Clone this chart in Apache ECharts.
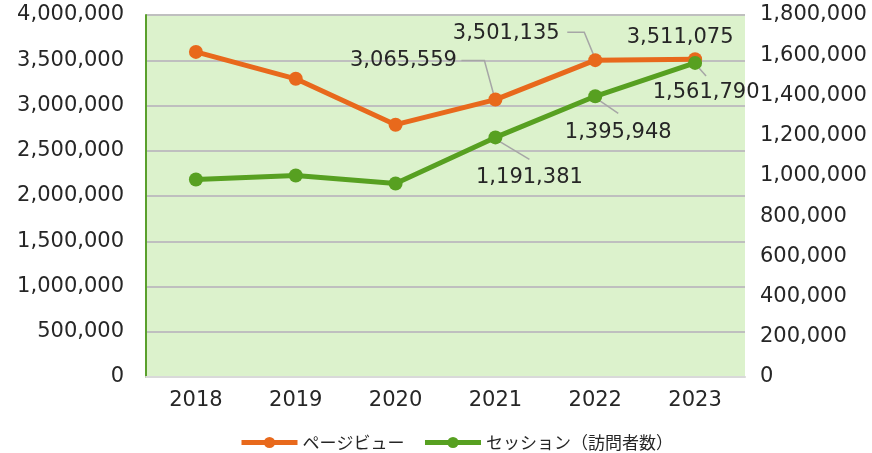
<!DOCTYPE html>
<html><head><meta charset="utf-8">
<script src="https://cdn.jsdelivr.net/npm/echarts@6/dist/echarts.min.js"></script>
<style>html,body{margin:0;padding:0;background:#fff}#c{width:872px;height:453px}</style>
</head><body><div id="c"></div>
<script>
const years = ['2018','2019','2020','2021','2022','2023'];
const pageViews = [3592000, 3295000, 2788000, 3065559, 3501135, 3511075];
const sessions = [982000, 1002000, 962000, 1191381, 1395948, 1561790];
const seriesNames = ['ページビュー', 'セッション（訪問者数）'];
const labeledFrom = 3;

const NUM_FONT = 'DejaVu Sans';
const fmt = v => v.toLocaleString('en-US');
// label offsets (dx, dy) and guide-line bends relative to the point
const pvOffsets = {3: [-92, -39], 4: [-89, -27], 5: [-15, -22]};
const pvGuides = {3: [[-2,-6],[-11,-39],[-34,-39]], 4: [[-2,-6],[-11,-28],[-28,-28]]};
const sOffsets = {3: [34, 40], 4: [23, 36], 5: [11, 30]};
const sGuides = {3: [[4,4],[34,22]], 4: [[4,4],[23,17]], 5: [[3,4],[11,13]]};

function mk(arr) {
  return arr.map((v, i) => ({value: v, label: {show: i >= labeledFrom}}));
}
const labelStyle = {
  show: false, position: 'inside', formatter: p => fmt(p.value),
  fontFamily: NUM_FONT, fontSize: 21, color: '#262626'
};
function layoutFn(offsets) {
  return p => {
    const o = offsets[p.dataIndex] || [0, 0];
    return {dx: o[0], dy: o[1]};
  };
}

const chart = echarts.init(document.getElementById('c'));
chart.setOption({
  animation: false,
  grid: {left: 146, right: 127, top: 15, bottom: 76, show: true, backgroundColor: '#dcf2cc', borderWidth: 0},
  legend: {
    top: 429, left: 234, itemWidth: 56, itemHeight: 14, itemGap: 18,
    lineStyle: {width: 5},
    textStyle: {fontFamily: 'Noto Sans CJK JP', fontSize: 17, color: '#262626'},
    data: seriesNames
  },
  xAxis: {
    type: 'category', data: years, boundaryGap: true,
    axisLine: {show: true, lineStyle: {color: '#d9d9d9', width: 2}},
    axisTick: {show: false},
    axisLabel: {fontFamily: NUM_FONT, fontSize: 21, color: '#262626', margin: 13}
  },
  yAxis: [{
    type: 'value', min: 0, max: 4000000, interval: 500000,
    axisLine: {show: true, lineStyle: {color: '#5aa02c', width: 2}},
    axisTick: {show: false},
    splitLine: {lineStyle: {color: '#bfbfbf', width: 2}},
    axisLabel: {fontFamily: NUM_FONT, fontSize: 21, color: '#262626', margin: 22, formatter: v => fmt(v)}
  }, {
    type: 'value', min: 0, max: 1800000, interval: 200000,
    axisLine: {show: false}, axisTick: {show: false}, splitLine: {show: false},
    axisLabel: {fontFamily: NUM_FONT, fontSize: 21, color: '#262626', margin: 15, formatter: v => fmt(v)}
  }],
  series: [{
    name: seriesNames[0], type: 'line', yAxisIndex: 0,
    data: mk(pageViews),
    color: '#e8691c', lineStyle: {width: 5}, symbol: 'circle', symbolSize: 14,
    label: labelStyle, labelLayout: layoutFn(pvOffsets),
    z: 3
  }, {
    name: seriesNames[1], type: 'line', yAxisIndex: 1,
    data: mk(sessions),
    color: '#57a021', lineStyle: {width: 5}, symbol: 'circle', symbolSize: 14,
    label: labelStyle, labelLayout: layoutFn(sOffsets),
    z: 4
  }]
});

// guide lines from points to their labels, positioned through the axes
const guides = [];
function addGuides(arr, axisIdx, g) {
  Object.keys(g).forEach(k => {
    const i = +k;
    const pt = chart.convertToPixel({xAxisIndex: 0, yAxisIndex: axisIdx}, [i, arr[i]]);
    guides.push({
      type: 'polyline', z: 2, silent: true,
      shape: {points: g[k].map(q => [pt[0] + q[0], pt[1] + q[1]])},
      style: {stroke: '#a6a6a6', lineWidth: 1.5, fill: null}
    });
  });
}
addGuides(pageViews, 0, pvGuides);
addGuides(sessions, 1, sGuides);
chart.setOption({graphic: guides});
</script></body></html>
